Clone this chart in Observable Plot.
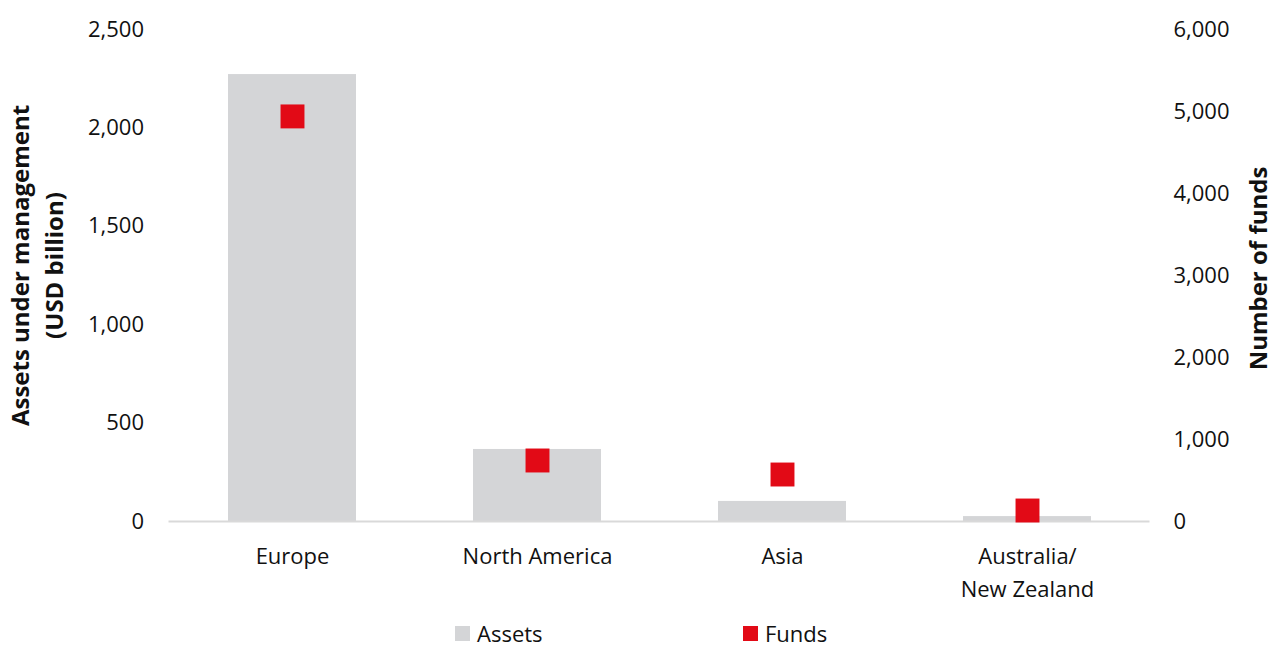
<!DOCTYPE html>
<html>
<head>
<meta charset="utf-8">
<script src="https://cdn.jsdelivr.net/npm/d3@7"></script>
<script src="https://cdn.jsdelivr.net/npm/@observablehq/plot@0.6"></script>
<style>
  html, body { margin: 0; padding: 0; background: #fff; overflow: hidden; }
  body { width: 1273px; height: 646px; font-family: "Open Sans", sans-serif; }
  #legend { position: relative; height: 26px; font-size: 22px; color: #111; }
  .item { position: absolute; top: -2px; display: flex; align-items: center; line-height: 30px; }
  .sw { width: 15px; height: 15px; margin-right: 7px; }
</style>
</head>
<body>
<div id="chart"></div>
<div id="legend">
  <div class="item" style="left:455px"><span class="sw" style="background:#d4d5d7"></span>Assets</div>
  <div class="item" style="left:743px"><span class="sw" style="background:#e20a16"></span>Funds</div>
</div>
<script>
const regions = ["Europe", "North America", "Asia", "Australia/\nNew Zealand"];
const assets = [2271, 366, 102, 25];       // USD billion
const funds = [4940, 744, 573, 134];       // number of funds
const assetTicks = [0, 500, 1000, 1500, 2000, 2500];
const fundTicks = [0, 1000, 2000, 3000, 4000, 5000, 6000];

const assetMax = 2500, fundMax = 6000;
const k = assetMax / fundMax;
const data = regions.map((r, i) => ({region: r, assets: assets[i], funds: funds[i], fundsScaled: funds[i] * k}));
const fmt = d3.format(",");

const chart = Plot.plot({
  width: 1273,
  height: 620,
  marginTop: 29,
  marginBottom: 99,
  marginLeft: 168.5,
  marginRight: 123.5,
  style: {fontFamily: "'Open Sans', sans-serif", fontSize: "22px", color: "#111"},
  x: {domain: regions, paddingInner: 0.478, paddingOuter: 0.239, label: null},
  y: {domain: [0, assetMax], label: null},
  marks: [
    Plot.barY(data, {x: "region", y: "assets", fill: "#d4d5d7"}),
    Plot.ruleY([0], {stroke: "#d9d9d9", strokeWidth: 2}),
    Plot.dot(data, {x: "region", y: "fundsScaled", symbol: "square", r: 13.5, fill: "#e20a16", stroke: null}),
    Plot.axisX({tickSize: 0, tickPadding: 19, lineHeight: 1.5, label: null, fontSize: 22}),
    Plot.axisY({anchor: "left", ticks: assetTicks, tickSize: 0, tickPadding: 25, tickFormat: fmt, label: null, fontSize: 22}),
    Plot.axisY({anchor: "right", ticks: fundTicks.map(f => f * k), tickSize: 0, tickPadding: 23.5,
      tickFormat: v => fmt(Math.round(v / k)), label: null, fontSize: 22}),
    Plot.text(["Assets under management\n(USD billion)"], {frameAnchor: "left", textAnchor: "middle", rotate: -90,
      dx: -133.5, dy: -10, fontWeight: "bold", fontSize: 24, lineHeight: 1.42, fill: "#111"}),
    Plot.text(["Number of funds"], {frameAnchor: "right", textAnchor: "middle", rotate: -90, dx: 109.5, dy: -7,
      fontWeight: "bold", fontSize: 24, fill: "#111"})
  ]
});
document.getElementById("chart").appendChild(chart);
</script>
</body>
</html>
